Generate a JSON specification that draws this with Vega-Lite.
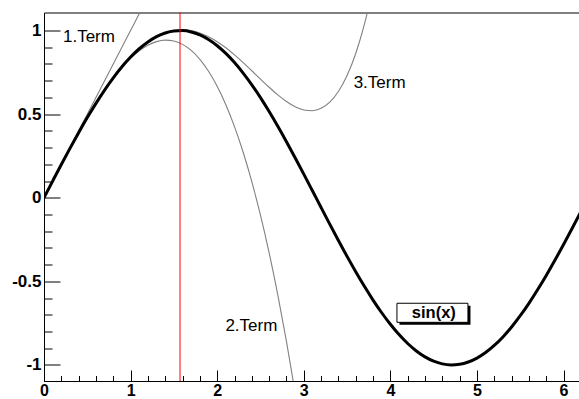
{
  "$schema": "https://vega.github.io/schema/vega-lite/v6.json",
  "autosize": {"type": "none"},
  "padding": {"left": 44, "top": 12.5, "right": 0, "bottom": 18},
  "width": 536,
  "height": 368.5,
  "background": "white",
  "config": {
    "view": {"stroke": "black", "strokeWidth": 1},
    "axis": {
      "grid": false,
      "domainColor": "black",
      "tickColor": "black",
      "labelColor": "black",
      "labelFont": "Liberation Sans",
      "labelFontWeight": "bold",
      "labelFontSize": 17,
      "labelFlush": false,
      "labelOverlap": false,
      "title": null
    }
  },
  "datasets": {
    "curves": [
      {"x": 0.0, "sin": 0.0, "t1": 0.0, "t2": 0.0, "t3": 0.0},
      {"x": 0.1, "sin": 0.0998, "t1": 0.1, "t2": 0.0998, "t3": 0.0998},
      {"x": 0.2, "sin": 0.1987, "t1": 0.2, "t2": 0.1987, "t3": 0.1987},
      {"x": 0.3, "sin": 0.2955, "t1": 0.3, "t2": 0.2955, "t3": 0.2955},
      {"x": 0.4, "sin": 0.3894, "t1": 0.4, "t2": 0.3893, "t3": 0.3894},
      {"x": 0.5, "sin": 0.4794, "t1": 0.5, "t2": 0.4792, "t3": 0.4794},
      {"x": 0.6, "sin": 0.5646, "t1": 0.6, "t2": 0.564, "t3": 0.5646},
      {"x": 0.7, "sin": 0.6442, "t1": 0.7, "t2": 0.6428, "t3": 0.6442},
      {"x": 0.8, "sin": 0.7174, "t1": 0.8, "t2": 0.7147, "t3": 0.7174},
      {"x": 0.9, "sin": 0.7833, "t1": 0.9, "t2": 0.7785, "t3": 0.7834},
      {"x": 1.0, "sin": 0.8415, "t1": 1.0, "t2": 0.8333, "t3": 0.8417},
      {"x": 1.1, "sin": 0.8912, "t1": 1.1, "t2": 0.8782, "t3": 0.8916},
      {"x": 1.2, "sin": 0.932, "t1": 1.2, "t2": 0.912, "t3": 0.9327},
      {"x": 1.3, "sin": 0.9636, "t1": null, "t2": 0.9338, "t3": 0.9647},
      {"x": 1.4, "sin": 0.9854, "t1": null, "t2": 0.9427, "t3": 0.9875},
      {"x": 1.5, "sin": 0.9975, "t1": null, "t2": 0.9375, "t3": 1.0008},
      {"x": 1.6, "sin": 0.9996, "t1": null, "t2": 0.9173, "t3": 1.0047},
      {"x": 1.7, "sin": 0.9917, "t1": null, "t2": 0.8812, "t3": 0.9995},
      {"x": 1.8, "sin": 0.9738, "t1": null, "t2": 0.828, "t3": 0.9855},
      {"x": 1.9, "sin": 0.9463, "t1": null, "t2": 0.7568, "t3": 0.9631},
      {"x": 2.0, "sin": 0.9093, "t1": null, "t2": 0.6667, "t3": 0.9333},
      {"x": 2.1, "sin": 0.8632, "t1": null, "t2": 0.5565, "t3": 0.8968},
      {"x": 2.2, "sin": 0.8085, "t1": null, "t2": 0.4253, "t3": 0.8548},
      {"x": 2.3, "sin": 0.7457, "t1": null, "t2": 0.2722, "t3": 0.8086},
      {"x": 2.4, "sin": 0.6755, "t1": null, "t2": 0.096, "t3": 0.7596},
      {"x": 2.5, "sin": 0.5985, "t1": null, "t2": -0.1042, "t3": 0.7096},
      {"x": 2.6, "sin": 0.5155, "t1": null, "t2": -0.3293, "t3": 0.6608},
      {"x": 2.7, "sin": 0.4274, "t1": null, "t2": -0.5805, "t3": 0.6152},
      {"x": 2.8, "sin": 0.335, "t1": null, "t2": -0.8587, "t3": 0.5755},
      {"x": 2.9, "sin": 0.2392, "t1": null, "t2": -1.1648, "t3": 0.5445},
      {"x": 3.0, "sin": 0.1411, "t1": null, "t2": -1.5, "t3": 0.525},
      {"x": 3.1, "sin": 0.0416, "t1": null, "t2": null, "t3": 0.5206},
      {"x": 3.2, "sin": -0.0584, "t1": null, "t2": null, "t3": 0.5349},
      {"x": 3.3, "sin": -0.1577, "t1": null, "t2": null, "t3": 0.5718},
      {"x": 3.4, "sin": -0.2555, "t1": null, "t2": null, "t3": 0.6356},
      {"x": 3.5, "sin": -0.3508, "t1": null, "t2": null, "t3": 0.731},
      {"x": 3.6, "sin": -0.4425, "t1": null, "t2": null, "t3": 0.8628},
      {"x": 3.7, "sin": -0.5298, "t1": null, "t2": null, "t3": 1.0365},
      {"x": 3.8, "sin": -0.6119, "t1": null, "t2": null, "t3": 1.2576},
      {"x": 3.9, "sin": -0.6878, "t1": null, "t2": null, "t3": null},
      {"x": 4.0, "sin": -0.7568, "t1": null, "t2": null, "t3": null},
      {"x": 4.1, "sin": -0.8183, "t1": null, "t2": null, "t3": null},
      {"x": 4.2, "sin": -0.8716, "t1": null, "t2": null, "t3": null},
      {"x": 4.3, "sin": -0.9162, "t1": null, "t2": null, "t3": null},
      {"x": 4.4, "sin": -0.9516, "t1": null, "t2": null, "t3": null},
      {"x": 4.5, "sin": -0.9775, "t1": null, "t2": null, "t3": null},
      {"x": 4.6, "sin": -0.9937, "t1": null, "t2": null, "t3": null},
      {"x": 4.7, "sin": -0.9999, "t1": null, "t2": null, "t3": null},
      {"x": 4.8, "sin": -0.9962, "t1": null, "t2": null, "t3": null},
      {"x": 4.9, "sin": -0.9825, "t1": null, "t2": null, "t3": null},
      {"x": 5.0, "sin": -0.9589, "t1": null, "t2": null, "t3": null},
      {"x": 5.1, "sin": -0.9258, "t1": null, "t2": null, "t3": null},
      {"x": 5.2, "sin": -0.8835, "t1": null, "t2": null, "t3": null},
      {"x": 5.3, "sin": -0.8323, "t1": null, "t2": null, "t3": null},
      {"x": 5.4, "sin": -0.7728, "t1": null, "t2": null, "t3": null},
      {"x": 5.5, "sin": -0.7055, "t1": null, "t2": null, "t3": null},
      {"x": 5.6, "sin": -0.6313, "t1": null, "t2": null, "t3": null},
      {"x": 5.7, "sin": -0.5507, "t1": null, "t2": null, "t3": null},
      {"x": 5.8, "sin": -0.4646, "t1": null, "t2": null, "t3": null},
      {"x": 5.9, "sin": -0.3739, "t1": null, "t2": null, "t3": null},
      {"x": 6.0, "sin": -0.2794, "t1": null, "t2": null, "t3": null},
      {"x": 6.1, "sin": -0.1822, "t1": null, "t2": null, "t3": null},
      {"x": 6.2, "sin": -0.0831, "t1": null, "t2": null, "t3": null}
    ],
    "marker": [{"x": 1.5708, "y": -1.2, "y2": 1.2}],
    "termLabels": [
      {"label": "1.Term", "x": 0.219, "y": 0.931},
      {"label": "2.Term", "x": 2.095, "y": -0.795},
      {"label": "3.Term", "x": 3.576, "y": 0.655}
    ],
    "shadow": [{"x": 4.105, "x2": 4.925, "y": -0.646, "y2": -0.76}],
    "box": [{"x": 4.076, "x2": 4.896, "y": -0.631, "y2": -0.745}],
    "title": [{"label": "sin(x)", "x": 4.502, "y": -0.722}]
  },
  "encoding": {
    "x": {
      "field": "x",
      "type": "quantitative",
      "scale": {"domain": [0, 6.19], "nice": false, "zero": false},
      "axis": {
        "orient": "bottom",
        "values": [0, 0.2, 0.4, 0.6, 0.8, 1, 1.2, 1.4, 1.6, 1.8, 2, 2.2, 2.4, 2.6, 2.8, 3, 3.2, 3.4, 3.6, 3.8, 4, 4.2, 4.4, 4.6, 4.8, 5, 5.2, 5.4, 5.6, 5.8, 6],
        "tickSize": {"condition": {"test": "abs(datum.value - round(datum.value)) < 0.001", "value": -11}, "value": -5.5},
        "labelPadding": 12.5,
        "labelFontSize": 16,
        "labelBaseline": "top",
        "labelExpr": "abs(datum.value - round(datum.value)) < 0.001 ? '' + datum.value : ''"
      }
    },
    "y": {
      "field": "y",
      "type": "quantitative",
      "scale": {"domain": [-1.096, 1.108], "nice": false, "zero": false},
      "axis": {
        "orient": "left",
        "values": [-1, -0.9, -0.8, -0.7, -0.6, -0.5, -0.4, -0.3, -0.2, -0.1, 0, 0.1, 0.2, 0.3, 0.4, 0.5, 0.6, 0.7, 0.8, 0.9, 1],
        "tickSize": {"condition": {"test": "abs(datum.value * 2 - round(datum.value * 2)) < 0.001", "value": -16}, "value": -8},
        "labelPadding": 19,
        "labelExpr": "abs(datum.value * 2 - round(datum.value * 2)) < 0.001 ? '' + datum.value : ''"
      }
    }
  },
  "layer": [
    {
      "data": {"name": "curves"},
      "transform": [{"fold": ["t1"], "as": ["k", "y"]}],
      "mark": {"type": "line", "clip": true, "color": "#808080", "strokeWidth": 1.1, "interpolate": "monotone"}
    },
    {
      "data": {"name": "curves"},
      "transform": [{"fold": ["t2"], "as": ["k", "y"]}],
      "mark": {"type": "line", "clip": true, "color": "#808080", "strokeWidth": 1.1, "interpolate": "monotone"}
    },
    {
      "data": {"name": "curves"},
      "transform": [{"fold": ["t3"], "as": ["k", "y"]}],
      "mark": {"type": "line", "clip": true, "color": "#808080", "strokeWidth": 1.1, "interpolate": "monotone"}
    },
    {
      "data": {"name": "curves"},
      "transform": [{"fold": ["sin"], "as": ["k", "y"]}],
      "mark": {"type": "line", "clip": true, "color": "black", "strokeWidth": 3, "interpolate": "monotone"}
    },
    {
      "data": {"name": "marker"},
      "mark": {"type": "rule", "clip": true, "color": "#ff0000", "strokeWidth": 1},
      "encoding": {"y2": {"field": "y2"}}
    },
    {
      "data": {"name": "termLabels"},
      "mark": {"type": "text", "align": "left", "baseline": "alphabetic", "font": "Liberation Sans", "fontSize": 17, "color": "black"},
      "encoding": {"text": {"field": "label"}}
    },
    {
      "data": {"name": "shadow"},
      "mark": {"type": "rect", "color": "black"},
      "encoding": {"x2": {"field": "x2"}, "y2": {"field": "y2"}}
    },
    {
      "data": {"name": "box"},
      "mark": {"type": "rect", "fill": "white", "stroke": "black", "strokeWidth": 1},
      "encoding": {"x2": {"field": "x2"}, "y2": {"field": "y2"}}
    },
    {
      "data": {"name": "title"},
      "mark": {"type": "text", "align": "center", "baseline": "alphabetic", "font": "Liberation Sans", "fontWeight": "bold", "fontSize": 16.5, "color": "black"},
      "encoding": {"text": {"field": "label"}}
    }
  ]
}
